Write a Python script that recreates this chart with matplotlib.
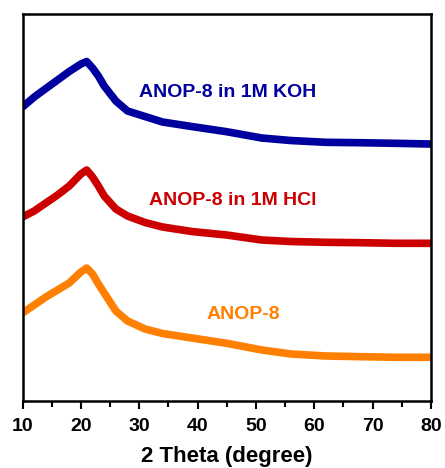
import matplotlib
matplotlib.use("Agg")
import matplotlib.pyplot as plt
from matplotlib.ticker import MultipleLocator

plt.rcParams['font.family'] = ['Liberation Sans', 'DejaVu Sans']

two_theta = [10, 12, 14, 16, 18, 20, 21, 22, 23, 24, 26, 28, 31, 34, 39, 45, 51, 56, 62, 68, 74, 80]
koh = [294, 304, 312.5, 321, 329.5, 337, 339.5, 333, 325, 315, 300, 290, 284.5, 279, 274.5, 269.3, 263,
       260.5, 258.7, 258.3, 257.7, 257]
hcl = [184, 190, 198, 206, 215, 227, 231, 224, 215, 205, 192, 185, 178.5, 174, 169.5, 166, 161,
       159.5, 158.7, 158.3, 157.7, 157.7]
anop = [88, 96, 104, 111, 118, 129, 133, 127, 117, 108, 90, 80, 72, 67.5, 63, 57.7, 51,
        47, 45, 44.3, 43.7, 43.7]

labels = ["ANOP-8 in 1M KOH", "ANOP-8 in 1M HCl", "ANOP-8"]
colors = ["#00009E", "#CC0000", "#FF8000"]
label_pos = [(45.2, 309), (46.1, 201), (47.9, 86)]

fig = plt.figure(figsize=(4.45, 4.68), dpi=100)
ax = fig.add_axes([0.0506, 0.1432, 0.9179, 0.8268])

for y, c in zip([koh, hcl, anop], colors):
    ax.plot(two_theta, y, color=c, lw=5.5, solid_joinstyle='round', solid_capstyle='butt')

for (tx, ty), lab, c in zip(label_pos, labels, colors):
    ax.text(tx, ty, lab, color=c, fontsize=14, fontweight='bold', ha='center', va='center')

ax.set_xlim(10, 80)
ax.set_ylim(0, 387)
ax.set_yticks([])
ax.xaxis.set_major_locator(MultipleLocator(10))
ax.xaxis.set_minor_locator(MultipleLocator(5))
ax.tick_params(axis='x', which='major', direction='out', length=6, width=1.5,
               labelsize=14, pad=6)
ax.tick_params(axis='x', which='minor', direction='out', length=4, width=1.5)
for lab in ax.get_xticklabels():
    lab.set_fontweight('bold')
for s in ax.spines.values():
    s.set_linewidth(1.8)
ax.set_xlabel("2 Theta (degree)", fontsize=16, fontweight='bold', labelpad=8)

fig.savefig("out.png", dpi=100)
